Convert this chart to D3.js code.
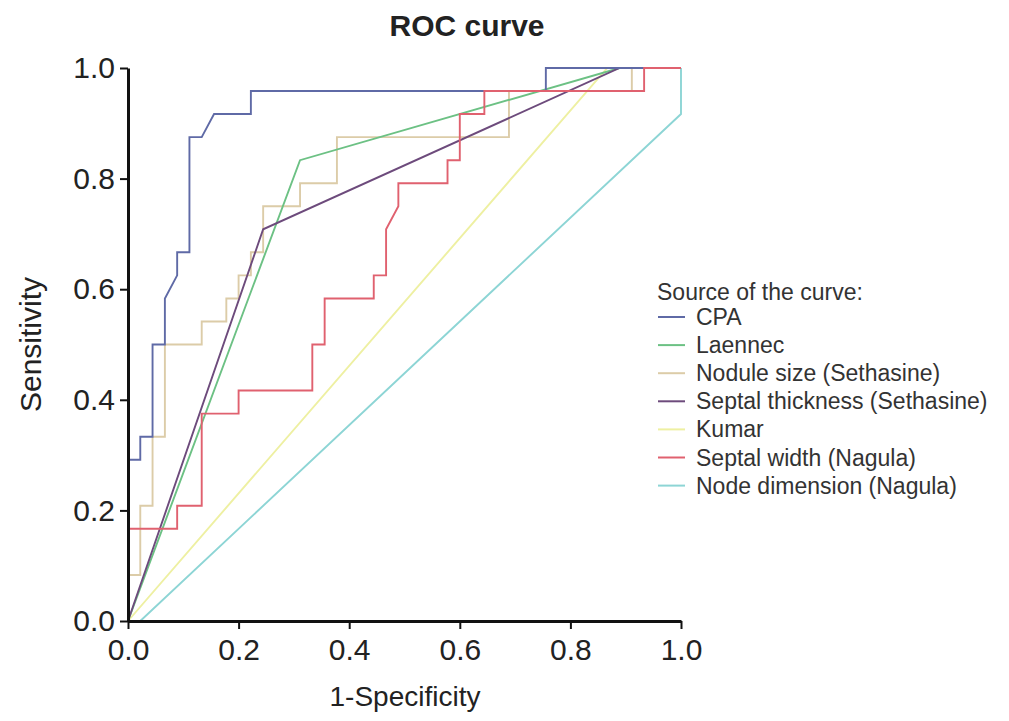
<!DOCTYPE html>
<html>
<head>
<meta charset="utf-8">
<script src="https://cdn.jsdelivr.net/npm/d3@7"></script>
<style>
  body { margin: 0; background: #fff; }
  svg { font-family: "Liberation Sans", Arial, sans-serif; }
</style>
</head>
<body>
<svg id="chart" width="1009" height="721"></svg>
<script>
// ---- data ----
const seriesNames = ["CPA", "Laennec", "Nodule size (Sethasine)", "Septal thickness (Sethasine)", "Kumar", "Septal width (Nagula)", "Node dimension (Nagula)"];
const seriesColors = ["#5f6aa6", "#6cc184", "#dccca8", "#6d4b7c", "#eef0a2", "#e0616f", "#8dd5d5"];

const cpaX = [0, 0, 0.0222, 0.0222, 0.0444, 0.0444, 0.0667, 0.0667, 0.0889, 0.0889, 0.1111, 0.1111, 0.1333, 0.1556, 0.2222, 0.2222, 0.7556, 0.7556, 1];
const cpaY = [0, 0.2917, 0.2917, 0.3333, 0.3333, 0.5, 0.5, 0.5833, 0.625, 0.6667, 0.6667, 0.875, 0.875, 0.9167, 0.9167, 0.9583, 0.9583, 1, 1];

const laennecX = [0, 0.3111, 0.8889, 1];
const laennecY = [0, 0.8333, 1, 1];

const noduleX = [0, 0, 0.0222, 0.0222, 0.0444, 0.0444, 0.0667, 0.0667, 0.1333, 0.1333, 0.1778, 0.1778, 0.2, 0.2, 0.2222, 0.2222, 0.2444, 0.2444, 0.3111, 0.3111, 0.3778, 0.3778, 0.6889, 0.6889, 0.9111, 0.9111, 1];
const noduleY = [0, 0.0833, 0.0833, 0.2083, 0.2083, 0.3333, 0.3333, 0.5, 0.5, 0.5417, 0.5417, 0.5833, 0.5833, 0.625, 0.625, 0.6667, 0.6667, 0.75, 0.75, 0.7917, 0.7917, 0.875, 0.875, 0.9583, 0.9583, 1, 1];

const septalThickX = [0, 0.2444, 0.8889, 1];
const septalThickY = [0, 0.7083, 1, 1];

const kumarX = [0, 0.8667, 1];
const kumarY = [0, 1, 1];

const septalWidthX = [0, 0, 0.0889, 0.0889, 0.1333, 0.1333, 0.2, 0.2, 0.3333, 0.3333, 0.3556, 0.3556, 0.4444, 0.4444, 0.4667, 0.4667, 0.4889, 0.4889, 0.5778, 0.5778, 0.6, 0.6, 0.6444, 0.6444, 0.9333, 0.9333, 1];
const septalWidthY = [0, 0.1667, 0.1667, 0.2083, 0.2083, 0.375, 0.375, 0.4167, 0.4167, 0.5, 0.5, 0.5833, 0.5833, 0.625, 0.625, 0.7083, 0.75, 0.7917, 0.7917, 0.8333, 0.8333, 0.9167, 0.9167, 0.9583, 0.9583, 1, 1];

const nodeDimX = [0, 0.0222, 1, 1];
const nodeDimY = [0, 0, 0.9167, 1];

const tickValues = [0, 0.2, 0.4, 0.6, 0.8, 1.0];

const seriesX = [cpaX, laennecX, noduleX, septalThickX, kumarX, septalWidthX, nodeDimX];
const seriesY = [cpaY, laennecY, noduleY, septalThickY, kumarY, septalWidthY, nodeDimY];

// ---- chart ----
(function () {
const svg = d3.select("#chart");
const pLeft = 128, pRight = 681, pTop = 68, pBottom = 621;

const x = d3.scaleLinear().domain([0, 1]).range([pLeft, pRight]);
const y = d3.scaleLinear().domain([0, 1]).range([pBottom, pTop]);

const line = d3.line().x(d => x(d[0])).y(d => y(d[1]));

const drawOrder = [6, 4, 2, 1, 3, 0, 5];
drawOrder.forEach(i => {
  const pts = seriesX[i].map((v, j) => [v, seriesY[i][j]]);
  svg.append("path")
    .attr("d", line(pts))
    .attr("fill", "none")
    .attr("stroke", seriesColors[i])
    .attr("stroke-width", 1.9)
    .attr("stroke-linejoin", "miter");
});

// axes
const fmt = d3.format(".1f");
const xAxis = d3.axisBottom(x).tickValues(tickValues).tickFormat(fmt).tickSize(8).tickSizeOuter(0);
const yAxis = d3.axisLeft(y).tickValues(tickValues).tickFormat(fmt).tickSize(8).tickSizeOuter(0);

const gx = svg.append("g").attr("transform", `translate(0,${pBottom})`).call(xAxis);
const gy = svg.append("g").attr("transform", `translate(${pLeft},0)`).call(yAxis);

[gx, gy].forEach(g => {
  g.select(".domain").attr("stroke", "#111").attr("stroke-width", 3);
  g.selectAll(".tick line").attr("stroke", "#111").attr("stroke-width", 2);
  g.selectAll(".tick text").attr("fill", "#222").style("font-size", "30px")
    .style("font-family", "'Liberation Sans', Arial, sans-serif");
});
gx.selectAll(".tick text").attr("dy", "0.71em").attr("y", 18);
gy.selectAll(".tick text").attr("x", -13);

// title
svg.append("text")
  .attr("x", 467).attr("y", 36)
  .attr("text-anchor", "middle")
  .style("font-size", "30px").style("font-weight", "bold").attr("fill", "#222")
  .text("ROC curve");

// axis titles
svg.append("text")
  .attr("x", 405).attr("y", 706)
  .attr("text-anchor", "middle")
  .style("font-size", "28px").attr("fill", "#222")
  .text("1-Specificity");

svg.append("text")
  .attr("transform", `translate(41,${(pTop + pBottom) / 2}) rotate(-90)`)
  .attr("text-anchor", "middle")
  .style("font-size", "30px").attr("fill", "#222")
  .text("Sensitivity");

// legend
const lg = svg.append("g");
lg.append("text")
  .attr("x", 657).attr("y", 300)
  .style("font-size", "23px").attr("fill", "#333")
  .text("Source of the curve:");

seriesNames.forEach((name, i) => {
  const yy = 317 + i * 28.1;
  lg.append("line")
    .attr("x1", 658).attr("x2", 685)
    .attr("y1", yy).attr("y2", yy)
    .attr("stroke", seriesColors[i]).attr("stroke-width", 2);
  lg.append("text")
    .attr("x", 696).attr("y", yy + 8)
    .style("font-size", "23px").attr("fill", "#333")
    .text(name);
});
})();
</script>
</body>
</html>
